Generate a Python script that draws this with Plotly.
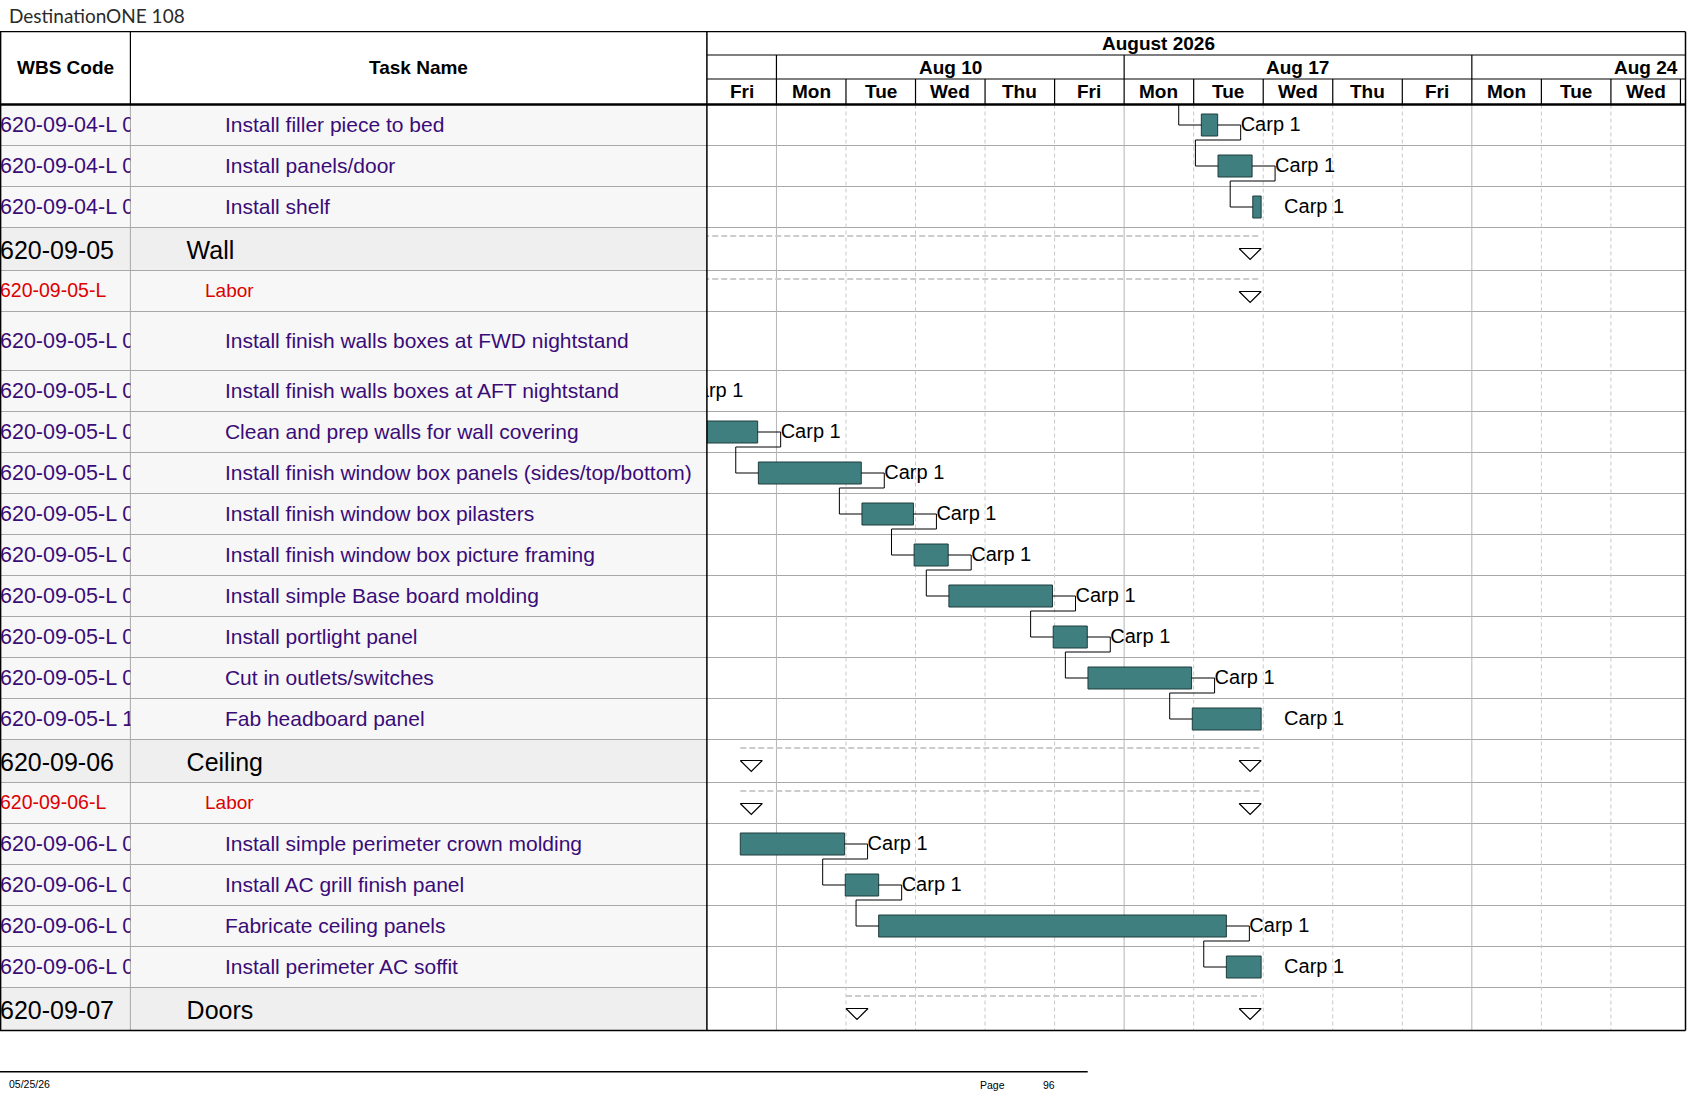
import plotly.graph_objects as go

# ---------------- data ----------------
wbs = ["620-09-04-L 07", "620-09-04-L 08", "620-09-04-L 09",
       "620-09-05", "620-09-05-L",
       "620-09-05-L 01", "620-09-05-L 02", "620-09-05-L 03", "620-09-05-L 04",
       "620-09-05-L 05", "620-09-05-L 06", "620-09-05-L 07", "620-09-05-L 08",
       "620-09-05-L 09", "620-09-05-L 10",
       "620-09-06", "620-09-06-L",
       "620-09-06-L 01", "620-09-06-L 02", "620-09-06-L 03", "620-09-06-L 04",
       "620-09-07"]
task_names = ["Install filler piece to bed", "Install panels/door", "Install shelf",
              "Wall", "Labor",
              "Install finish walls boxes at FWD nightstand",
              "Install finish walls boxes at AFT nightstand",
              "Clean and prep walls for wall covering",
              "Install finish window box panels (sides/top/bottom)",
              "Install finish window box pilasters",
              "Install finish window box picture framing",
              "Install simple Base board molding",
              "Install portlight panel",
              "Cut in outlets/switches",
              "Fab headboard panel",
              "Ceiling", "Labor",
              "Install simple perimeter crown molding",
              "Install AC grill finish panel",
              "Fabricate ceiling panels",
              "Install perimeter AC soffit",
              "Doors"]
row_kind = (["task"] * 3 + ["summary", "labor"] + ["task"] * 10 +
            ["summary", "labor"] + ["task"] * 4 + ["summary"])
# start / finish in working days counted from Fri Aug 7 2026 (0 = start of Fri)
start = [7.11, 7.35, 7.85, -2.9, -2.9, -2.9, -1.42, 0.0, 0.74, 2.23, 2.98,
         3.48, 4.98, 5.48, 6.98, 0.48, 0.48, 0.48, 1.99, 2.47, 7.47, 2.0]
finish = [7.345, 7.84, 7.97, 7.97, 7.97, -1.67, -0.67, 0.73, 2.22, 2.97, 3.47,
          4.97, 5.47, 6.97, 7.97, 7.97, 7.97, 1.98, 2.47, 7.47, 7.97, 7.97]
resource = ["Carp 1" if k == "task" else "" for k in row_kind]
# finish-to-start links (None = predecessor above the page)
links = [(None, 0), (0, 1), (1, 2), (5, 6), (6, 7), (7, 8), (8, 9), (9, 10),
         (10, 11), (11, 12), (12, 13), (13, 14), (17, 18), (18, 19), (19, 20)]

month_label = "August 2026"
month_span = (-4, 17)          # working days of August in the day index
week_labels = ["Aug 3", "Aug 10", "Aug 17", "Aug 24"]
week_starts = [-4, 1, 6, 11]
day_labels = ["Fri", "Mon", "Tue", "Wed", "Thu", "Fri", "Mon", "Tue", "Wed",
              "Thu", "Fri", "Mon", "Tue", "Wed"]

# ---------------- layout geometry (pixels) ----------------
W, H = 1687, 1097
ROW_H = [41, 41, 41, 43, 41, 59, 41, 41, 41, 41, 41, 41, 41, 41, 41, 43, 41,
         41, 41, 41, 41, 43]
TOP = 104.5
COL1 = 130.4      # WBS | Task Name
GX0 = 706.9       # table | gantt
GX1 = 1685.5      # right frame
DAY_PX = 69.54
HDR_TOP, HDR_M, HDR_W = 31.7, 55.0, 79.0

tops = []
yy = TOP
for h in ROW_H:
    tops.append(yy)
    yy += h
BOTTOM = yy
mids = [t + h / 2 for t, h in zip(tops, ROW_H)]
ndays = (GX1 - GX0) / DAY_PX


def px(x):
    return x / W


def py(y):
    return 1 - y / H


FONT = "Liberation Sans, Arial, sans-serif"
PURPLE = "#3a0c78"
RED = "#dd0000"
TEAL = "#3f7f7f"

fig = go.Figure()

# ---------------- link lines ----------------
stub = 23 / DAY_PX
gap = 22.6 / DAY_PX
lx, ly = [], []
for p, s in links:
    ys = mids[s]
    if p is None:
        lx += [start[s] - gap, start[s] - gap, start[s], None]
        ly += [TOP, ys, ys, None]
    else:
        yp = mids[p]
        drop = tops[p] + ROW_H[p] - 5.5
        lx += [finish[p], finish[p] + stub, finish[p] + stub, start[s] - gap,
               start[s] - gap, start[s], None]
        ly += [yp, yp, drop, drop, ys, ys, None]
fig.add_trace(go.Scatter(x=lx, y=ly, mode="lines", line=dict(color="black", width=1),
                         hoverinfo="skip", showlegend=False))

# ---------------- summary rows ----------------
sum_idx = [i for i, k in enumerate(row_kind) if k != "task"]
dx, dy = [], []
for i in sum_idx:
    dx += [start[i], finish[i], None]
    dy += [tops[i] + 8.5, tops[i] + 8.5, None]
fig.add_trace(go.Scatter(x=dx, y=dy, mode="lines",
                         line=dict(color="#cccccc", width=2, dash="6px,3px"),
                         hoverinfo="skip", showlegend=False))
tri = 11 / DAY_PX
tx, ty = [], []
for i in sum_idx:
    for c in (start[i] + tri, finish[i] - tri):
        tx += [c - tri, c + tri, c, c - tri, None]
        ty += [tops[i] + 21, tops[i] + 21, tops[i] + 32, tops[i] + 21, None]
fig.add_trace(go.Scatter(x=tx, y=ty, mode="lines", fill="toself", fillcolor="white",
                         line=dict(color="black", width=1.2),
                         hoverinfo="skip", showlegend=False))

# ---------------- task bars ----------------
task_idx = [i for i, k in enumerate(row_kind) if k == "task"]
fig.add_trace(go.Bar(orientation="h",
                     y=[mids[i] for i in task_idx],
                     base=[start[i] for i in task_idx],
                     x=[finish[i] - start[i] for i in task_idx],
                     width=22,
                     marker=dict(color=TEAL, line=dict(color="#1e3c3c", width=1)),
                     hoverinfo="skip", showlegend=False))
# resource labels (only those that reach into the visible timescale)
lab_idx = [i for i in task_idx if finish[i] + stub > -1.0]
fig.add_trace(go.Scatter(x=[finish[i] + stub for i in lab_idx],
                         y=[mids[i] + 1 for i in lab_idx],
                         text=[resource[i] for i in lab_idx],
                         mode="text", textposition="middle right",
                         textfont=dict(family=FONT, size=20, color="black"),
                         cliponaxis=True, hoverinfo="skip", showlegend=False))

# ---------------- table text ----------------
wbs_size = {"task": 21.5, "summary": 25, "labor": 19.5}
name_size = {"task": 21, "summary": 25, "labor": 19}
kind_color = {"task": PURPLE, "summary": "black", "labor": RED}
kind_indent = {"task": 94.5, "summary": 56.2, "labor": 74.6}
kind_dy = {"task": 1.3, "summary": 4.0, "labor": 1.3}
text_y = [m + kind_dy[k] for m, k in zip(mids, row_kind)]
fig.add_trace(go.Scatter(x=[0] * len(wbs), y=text_y, text=wbs, mode="text",
                         textposition="middle right",
                         textfont=dict(family=FONT, size=[wbs_size[k] for k in row_kind],
                                       color=[kind_color[k] for k in row_kind]),
                         xaxis="x2", yaxis="y", cliponaxis=True,
                         hoverinfo="skip", showlegend=False))
fig.add_trace(go.Scatter(x=[kind_indent[k] for k in row_kind], y=text_y, text=task_names,
                         mode="text", textposition="middle right",
                         textfont=dict(family=FONT, size=[name_size[k] for k in row_kind],
                                       color=[kind_color[k] for k in row_kind]),
                         xaxis="x3", yaxis="y", cliponaxis=True,
                         hoverinfo="skip", showlegend=False))

# ---------------- shapes ----------------
shapes = []
row_bg = {"task": "#f7f7f7", "labor": "#f7f7f7", "summary": "#efefef"}
for i, k in enumerate(row_kind):
    shapes.append(dict(type="rect", xref="paper", yref="y", x0=0, x1=px(GX0),
                       y0=tops[i], y1=tops[i] + ROW_H[i], fillcolor=row_bg[k],
                       line=dict(width=0), layer="below"))
# gantt vertical gridlines
for d in range(1, len(day_labels)):
    solid = day_labels[d] == "Mon"
    shapes.append(dict(type="line", xref="x", yref="y", x0=d, x1=d, y0=TOP, y1=BOTTOM,
                       line=dict(color="#b4b4b4" if solid else "#c8c8c8", width=1,
                                 dash="solid" if solid else "4px,3px"),
                       layer="below"))
# row separators
for i in range(1, len(ROW_H)):
    shapes.append(dict(type="line", xref="paper", yref="y", x0=0, x1=px(GX1),
                       y0=tops[i], y1=tops[i], line=dict(color="#a8a8a8", width=1),
                       layer="below"))
shapes.append(dict(type="line", xref="paper", yref="y", x0=px(COL1), x1=px(COL1),
                   y0=TOP, y1=BOTTOM, line=dict(color="#a8a8a8", width=1), layer="below"))


def hline(y, x0, x1, w=1.2, color="black"):
    shapes.append(dict(type="line", xref="paper", yref="paper", x0=px(x0), x1=px(x1),
                       y0=py(y), y1=py(y), line=dict(color=color, width=w)))


def vline(x, y0, y1, w=1.2, color="black"):
    shapes.append(dict(type="line", xref="paper", yref="paper", x0=px(x), x1=px(x),
                       y0=py(y0), y1=py(y1), line=dict(color=color, width=w)))


hline(HDR_TOP, 0, GX1)
hline(TOP, 0, GX1, w=2.5)
hline(BOTTOM, 0, GX1, w=1.5)
hline(HDR_M, GX0, GX1)
hline(HDR_W, GX0, GX1)
vline(0.6, HDR_TOP, BOTTOM, w=1.5)
vline(COL1, HDR_TOP, TOP)
vline(GX0, HDR_TOP, BOTTOM, w=1.5)
vline(GX1, HDR_TOP, BOTTOM, w=1.5)
for ws in week_starts:
    if 0 < ws < ndays:
        vline(GX0 + ws * DAY_PX, HDR_M, HDR_W)
for d in range(1, len(day_labels) + 1):
    if d < ndays:
        vline(GX0 + d * DAY_PX, HDR_W, TOP)
# footer rule
hline(1071.7, 0, 1087.7, w=1.5)

# ---------------- annotations ----------------
ann = []


def label(x, y, text, size, xanchor="center", xref="paper", bold=False, color="black",
          family=FONT):
    ann.append(dict(x=x if xref != "paper" else px(x), y=py(y), xref=xref, yref="paper",
                    text=f"<b>{text}</b>" if bold else text, showarrow=False,
                    xanchor=xanchor, yanchor="middle",
                    font=dict(family=family, size=size, color=color)))


label(6.5, 15, "DestinationONE 108", 19, xanchor="left", color="#2a2a2a",
      family="Lato, Noto Sans, sans-serif")
label(COL1 / 2, (HDR_TOP + TOP) / 2 - 1, "WBS Code", 19, bold=True)
label((COL1 + GX0) / 2, (HDR_TOP + TOP) / 2 - 1, "Task Name", 19, bold=True)
label((month_span[0] + month_span[1]) / 2, (HDR_TOP + HDR_M) / 2, month_label, 19,
      xref="x", bold=True)
for wl, ws in zip(week_labels, week_starts):
    c = ws + 2.5
    if 0 < c < ndays:
        label(c, (HDR_M + HDR_W) / 2, wl, 19, xref="x", bold=True)
for d, dl in enumerate(day_labels):
    label(d + 0.5, (HDR_W + TOP) / 2, dl, 19, xref="x", bold=True)
label(7, 1084, "05/25/26", 10.5, xanchor="left")
label(978, 1085, "Page", 10.5, xanchor="left")
label(1041, 1085, "96", 10.5, xanchor="left")

# ---------------- axes ----------------
ydom = [py(BOTTOM), py(TOP)]
fig.update_layout(
    width=W, height=H,
    margin=dict(l=0, r=0, t=0, b=0),
    paper_bgcolor="white", plot_bgcolor="rgba(0,0,0,0)",
    showlegend=False,
    xaxis=dict(domain=[px(GX0), px(GX1)], range=[0, ndays], visible=False,
               fixedrange=True),
    xaxis2=dict(domain=[0, px(COL1)], range=[0, COL1], visible=False, anchor="y"),
    xaxis3=dict(domain=[px(COL1), px(GX0)], range=[0, GX0 - COL1], visible=False,
                anchor="y"),
    yaxis=dict(domain=ydom, range=[BOTTOM, TOP], visible=False),
    shapes=shapes,
    annotations=ann,
)

# page body has a default 8px margin; drop it so the chart sits at the corner
fig.write_html("out.html", config={"displayModeBar": False},
               post_script="document.body.style.margin='0px';")
